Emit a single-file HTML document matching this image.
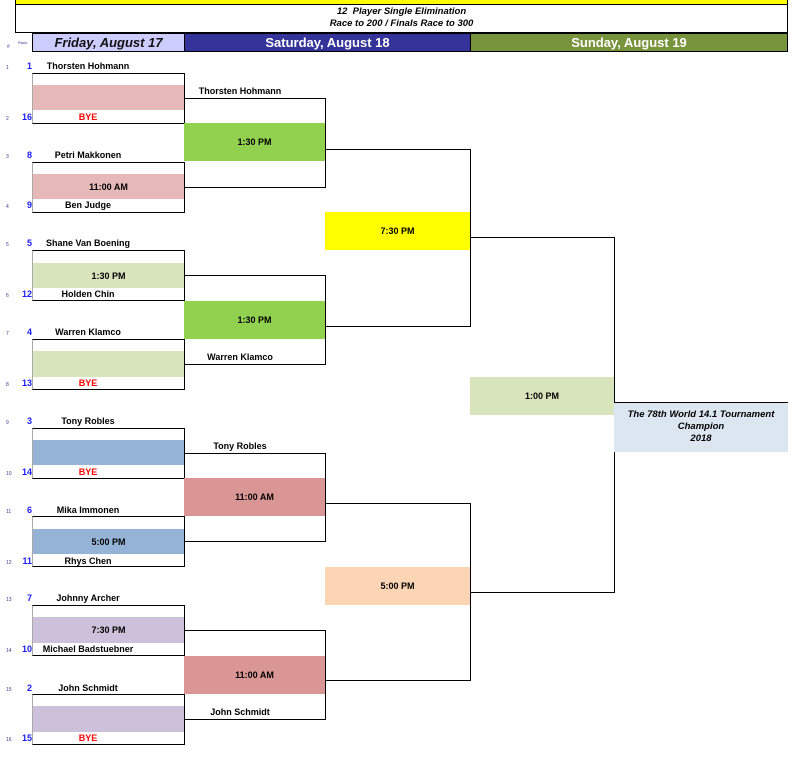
<!DOCTYPE html>
<html><head><meta charset="utf-8"><style>
body{margin:0;width:798px;height:757px;background:#fff;position:relative;overflow:hidden;font-family:"Liberation Sans",Arial,sans-serif;}
div{position:absolute;box-sizing:border-box;}
.t{font-weight:bold;font-size:9px;color:#000;white-space:nowrap;text-align:center;line-height:10px;}
.b{border-top:1px solid #000;border-right:1px solid #000;border-bottom:1px solid #000;}
.r1{left:32px;width:153px;height:51px;border-left:1px solid #aaa;}
.s{font-weight:bold;font-size:9px;color:#1a1aff;width:14px;left:18px;text-align:right;line-height:10px;}
.rk{font-size:5px;color:#3a3a99;left:6px;line-height:6px;}
.f{display:flex;align-items:center;justify-content:center;font-weight:bold;font-size:9px;}
.bye{color:#f00;}
</style></head><body>
<div style="left:15px;top:0;width:773px;height:5px;background:#ffff00;border:1px solid #000;border-top:none"></div>
<div style="left:15px;top:4px;width:773px;height:29px;border:1px solid #000;border-top:none"></div>
<div class="t" style="left:15px;top:6px;width:773px;font-style:italic;font-size:9.5px;line-height:12px">12&nbsp; Player Single Elimination<br>Race to 200 / Finals Race to 300</div>
<div style="left:32px;top:33px;width:153px;height:19px;background:#ccccff;border:1px solid #000;font-style:italic;font-weight:bold;font-size:13px;text-align:center;line-height:17px;color:#111">Friday, August 17</div>
<div style="left:184px;top:33px;width:287px;height:19px;background:#333399;border:1px solid #000;font-weight:bold;font-size:13px;text-align:center;line-height:17px;color:#fff">Saturday, August 18</div>
<div style="left:470px;top:33px;width:318px;height:19px;background:#77933c;border:1px solid #000;font-weight:bold;font-size:13px;text-align:center;line-height:17px;color:#fff">Sunday, August 19</div>
<div class="rk" style="top:40px;left:18px;font-size:4px">Rank</div>
<div class="rk" style="top:44px;left:7px">#</div>

<!-- Round 1 -->
<div class="r1 b" style="top:73px"></div><div style="left:33px;top:85px;width:151px;height:25px;background:#e6b8b7"></div>
<div class="r1 b" style="top:162px"></div><div class="f" style="left:33px;top:174px;width:151px;height:25px;background:#e6b8b7">11:00 AM</div>
<div class="r1 b" style="top:250px"></div><div class="f" style="left:33px;top:263px;width:151px;height:25px;background:#d8e4bc">1:30 PM</div>
<div class="r1 b" style="top:339px"></div><div style="left:33px;top:351px;width:151px;height:26px;background:#d8e4bc"></div>
<div class="r1 b" style="top:428px"></div><div style="left:33px;top:440px;width:151px;height:25px;background:#95b3d7"></div>
<div class="r1 b" style="top:516px"></div><div class="f" style="left:33px;top:529px;width:151px;height:25px;background:#95b3d7">5:00 PM</div>
<div class="r1 b" style="top:605px"></div><div class="f" style="left:33px;top:617px;width:151px;height:26px;background:#ccc0da">7:30 PM</div>
<div class="r1 b" style="top:694px"></div><div style="left:33px;top:706px;width:151px;height:26px;background:#ccc0da"></div>

<!-- names R1 -->
<div class="t" style="left:32px;width:112px;top:61px">Thorsten Hohmann</div>
<div class="t bye" style="left:32px;width:112px;top:112px">BYE</div>
<div class="t" style="left:32px;width:112px;top:150px">Petri Makkonen</div>
<div class="t" style="left:32px;width:112px;top:200px">Ben Judge</div>
<div class="t" style="left:32px;width:112px;top:238px">Shane Van Boening</div>
<div class="t" style="left:32px;width:112px;top:289px">Holden Chin</div>
<div class="t" style="left:32px;width:112px;top:327px">Warren Klamco</div>
<div class="t bye" style="left:32px;width:112px;top:378px">BYE</div>
<div class="t" style="left:32px;width:112px;top:416px">Tony Robles</div>
<div class="t bye" style="left:32px;width:112px;top:467px">BYE</div>
<div class="t" style="left:32px;width:112px;top:505px">Mika Immonen</div>
<div class="t" style="left:32px;width:112px;top:556px">Rhys Chen</div>
<div class="t" style="left:32px;width:112px;top:593px">Johnny Archer</div>
<div class="t" style="left:32px;width:112px;top:644px">Michael Badstuebner</div>
<div class="t" style="left:32px;width:112px;top:683px">John Schmidt</div>
<div class="t bye" style="left:32px;width:112px;top:733px">BYE</div>

<!-- seeds -->
<div class="s" style="top:61px">1</div><div class="s" style="top:112px">16</div>
<div class="s" style="top:150px">8</div><div class="s" style="top:200px">9</div>
<div class="s" style="top:238px">5</div><div class="s" style="top:289px">12</div>
<div class="s" style="top:327px">4</div><div class="s" style="top:378px">13</div>
<div class="s" style="top:416px">3</div><div class="s" style="top:467px">14</div>
<div class="s" style="top:505px">6</div><div class="s" style="top:556px">11</div>
<div class="s" style="top:593px">7</div><div class="s" style="top:644px">10</div>
<div class="s" style="top:683px">2</div><div class="s" style="top:733px">15</div>
<!-- ranks -->
<div class="rk" style="top:65px">1</div><div class="rk" style="top:116px">2</div>
<div class="rk" style="top:154px">3</div><div class="rk" style="top:204px">4</div>
<div class="rk" style="top:242px">5</div><div class="rk" style="top:293px">6</div>
<div class="rk" style="top:331px">7</div><div class="rk" style="top:382px">8</div>
<div class="rk" style="top:420px">9</div><div class="rk" style="top:471px">10</div>
<div class="rk" style="top:509px">11</div><div class="rk" style="top:560px">12</div>
<div class="rk" style="top:597px">13</div><div class="rk" style="top:648px">14</div>
<div class="rk" style="top:687px">15</div><div class="rk" style="top:737px">16</div>

<!-- Round 2 -->
<div class="b" style="left:184px;top:98px;width:142px;height:90px"></div>
<div class="f" style="left:184px;top:123px;width:141px;height:38px;background:#92d050">1:30 PM</div>
<div class="t" style="left:184px;width:112px;top:86px">Thorsten Hohmann</div>
<div class="b" style="left:184px;top:275px;width:142px;height:90px"></div>
<div class="f" style="left:184px;top:301px;width:141px;height:38px;background:#92d050">1:30 PM</div>
<div class="t" style="left:184px;width:112px;top:352px">Warren Klamco</div>
<div class="b" style="left:184px;top:453px;width:142px;height:89px"></div>
<div class="f" style="left:184px;top:478px;width:141px;height:38px;background:#da9694">11:00 AM</div>
<div class="t" style="left:184px;width:112px;top:441px">Tony Robles</div>
<div class="b" style="left:184px;top:630px;width:142px;height:90px"></div>
<div class="f" style="left:184px;top:656px;width:141px;height:38px;background:#da9694">11:00 AM</div>
<div class="t" style="left:184px;width:112px;top:707px">John Schmidt</div>

<!-- Round 3 -->
<div class="b" style="left:325px;top:149px;width:146px;height:178px"></div>
<div class="f" style="left:325px;top:212px;width:145px;height:38px;background:#ffff00">7:30 PM</div>
<div class="b" style="left:325px;top:503px;width:146px;height:178px"></div>
<div class="f" style="left:325px;top:567px;width:145px;height:38px;background:#fcd5b4">5:00 PM</div>

<!-- Round 4 -->
<div class="b" style="left:470px;top:237px;width:145px;height:356px"></div>
<div class="f" style="left:470px;top:377px;width:144px;height:38px;background:#d8e4bc">1:00 PM</div>

<!-- Champion -->
<div style="left:614px;top:402px;width:174px;height:50px;background:#dce6f1;border-top:1px solid #000"></div>
<div class="t" style="left:614px;top:409px;width:174px;font-style:italic;line-height:12px;font-size:9.5px">The 78th World 14.1 Tournament<br>Champion<br>2018</div>
</body></html>
